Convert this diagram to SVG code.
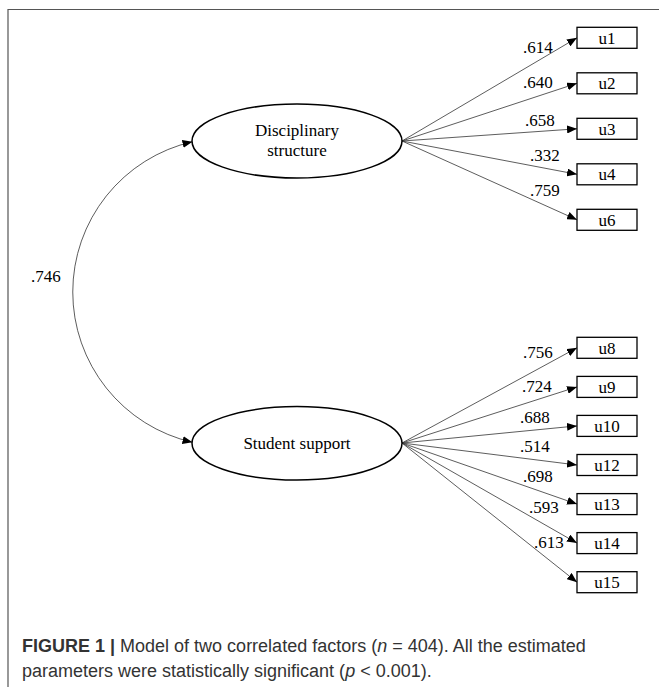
<svg xmlns="http://www.w3.org/2000/svg" width="659" height="687" viewBox="0 0 659 687">
<style>
.frame{stroke:#555;stroke-width:1.2;fill:none}
.ell{fill:#fff;stroke:#000;stroke-width:1.5}
.box{fill:#fff;stroke:#000;stroke-width:1.3}
.t{font-family:"Liberation Serif","Times New Roman",serif;font-size:17px;fill:#000}
.c{text-anchor:middle}
.ln{stroke:#333;stroke-width:0.8;fill:none}
.arr{marker-end:url(#ah)}
.cap{font-family:"Liberation Sans",Arial,sans-serif;font-size:18px;fill:#333}
</style>
<defs>
<marker id="ah" markerUnits="userSpaceOnUse" markerWidth="10" markerHeight="8" refX="10" refY="4" orient="auto-start-reverse">
<path d="M0,0 L10,4 L0,8 z" fill="#000"/>
</marker>
</defs>
<path class="frame" d="M8,687 V9.5 H659"/>
<g id="connectors">
<path class="ln" d="M192.5,141.7 A154.2,154.2 0 0 0 192.5,442.3" marker-start="url(#ah)" marker-end="url(#ah)"/>
<line class="ln arr" x1="402" y1="141" x2="577" y2="37.8"/>
<line class="ln arr" x1="402" y1="141" x2="577" y2="83.3"/>
<line class="ln arr" x1="402" y1="141" x2="577" y2="128.8"/>
<line class="ln arr" x1="402" y1="141" x2="577" y2="174.3"/>
<line class="ln arr" x1="402" y1="141" x2="577" y2="219.8"/>
<line class="ln arr" x1="402" y1="443" x2="577" y2="347.8"/>
<line class="ln arr" x1="402" y1="443" x2="577" y2="386.9"/>
<line class="ln arr" x1="402" y1="443" x2="577" y2="425.9"/>
<line class="ln arr" x1="402" y1="443" x2="577" y2="465"/>
<line class="ln arr" x1="402" y1="443" x2="577" y2="504.1"/>
<line class="ln arr" x1="402" y1="443" x2="577" y2="543.1"/>
<line class="ln arr" x1="402" y1="443" x2="577" y2="582.2"/>
<text class="t" x="31" y="282">.746</text>
<text class="t" x="523" y="53">.614</text>
<text class="t" x="523" y="88">.640</text>
<text class="t" x="525" y="126">.658</text>
<text class="t" x="530" y="160.5">.332</text>
<text class="t" x="530" y="196">.759</text>
<text class="t" x="523" y="358">.756</text>
<text class="t" x="522" y="392">.724</text>
<text class="t" x="520" y="423">.688</text>
<text class="t" x="520" y="452">.514</text>
<text class="t" x="523" y="482">.698</text>
<text class="t" x="529" y="513">.593</text>
<text class="t" x="534" y="548">.613</text>
</g>
<g id="disciplinary">
<ellipse class="ell" cx="297" cy="141" rx="105" ry="37"/>
<text class="t c" x="297" y="136">Disciplinary</text>
<text class="t c" x="297" y="156">structure</text>
</g>
<g id="student">
<ellipse class="ell" cx="297" cy="443.3" rx="105" ry="36.7"/>
<text class="t c" x="297" y="449">Student support</text>
</g>
<g id="u1"><rect class="box" x="577" y="27.3" width="60" height="21"/><text class="t c" x="607" y="43.5">u1</text></g>
<g id="u2"><rect class="box" x="577" y="72.8" width="60" height="21"/><text class="t c" x="607" y="89">u2</text></g>
<g id="u3"><rect class="box" x="577" y="118.3" width="60" height="21"/><text class="t c" x="607" y="134.5">u3</text></g>
<g id="u4"><rect class="box" x="577" y="163.8" width="60" height="21"/><text class="t c" x="607" y="180">u4</text></g>
<g id="u6"><rect class="box" x="577" y="209.3" width="60" height="21"/><text class="t c" x="607" y="225.5">u6</text></g>
<g id="u8"><rect class="box" x="577" y="337.3" width="60" height="21"/><text class="t c" x="607" y="353.5">u8</text></g>
<g id="u9"><rect class="box" x="577" y="376.4" width="60" height="21"/><text class="t c" x="607" y="392.6">u9</text></g>
<g id="u10"><rect class="box" x="577" y="415.4" width="60" height="21"/><text class="t c" x="607" y="431.6">u10</text></g>
<g id="u12"><rect class="box" x="577" y="454.5" width="60" height="21"/><text class="t c" x="607" y="470.7">u12</text></g>
<g id="u13"><rect class="box" x="577" y="493.6" width="60" height="21"/><text class="t c" x="607" y="509.8">u13</text></g>
<g id="u14"><rect class="box" x="577" y="532.6" width="60" height="21"/><text class="t c" x="607" y="548.8">u14</text></g>
<g id="u15"><rect class="box" x="577" y="571.7" width="60" height="21"/><text class="t c" x="607" y="587.9">u15</text></g>
<g id="caption">
<text class="cap" x="22" y="652"><tspan font-weight="bold">FIGURE 1 |</tspan> Model of two correlated factors (<tspan font-style="italic">n</tspan> = 404). All the estimated</text>
<text class="cap" x="22" y="677">parameters were statistically significant (<tspan font-style="italic">p</tspan> &lt; 0.001).</text>
</g>
</svg>
